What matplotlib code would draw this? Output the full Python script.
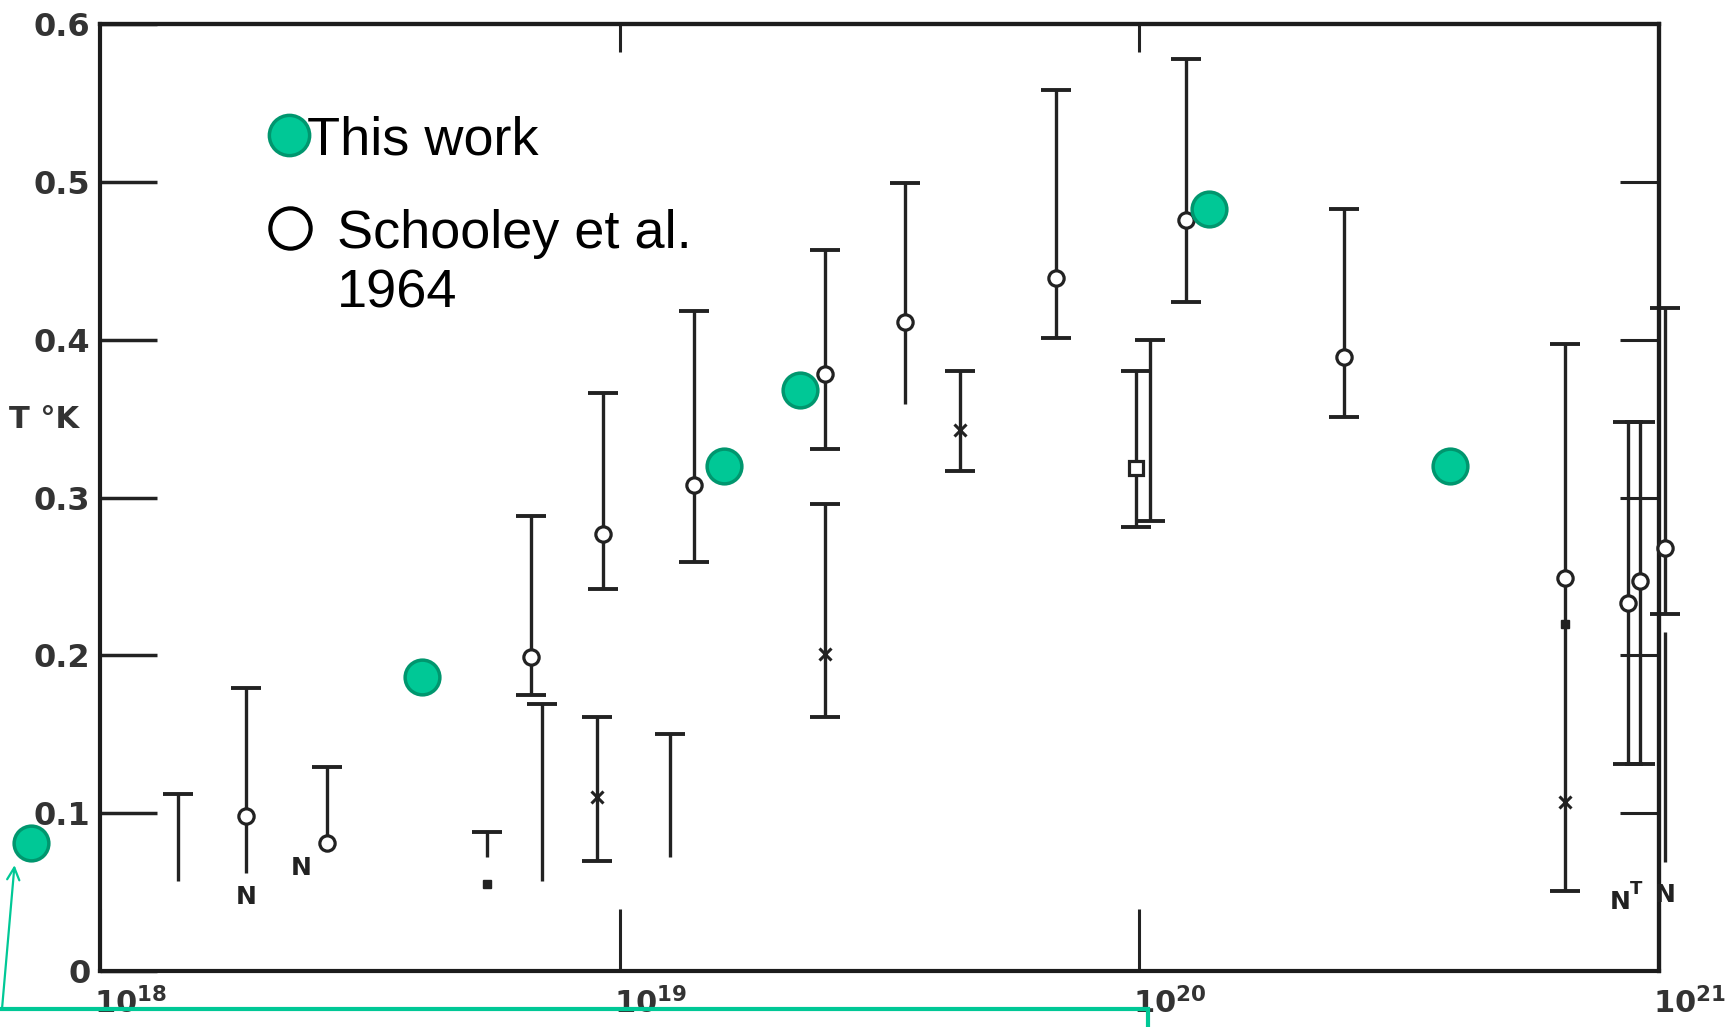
import matplotlib
matplotlib.use("Agg")
import matplotlib.pyplot as plt
from matplotlib.lines import Line2D
from matplotlib.ticker import NullLocator
from matplotlib.transforms import offset_copy
import numpy as np

nan = np.nan

# Superconducting transition temperature vs. carrier concentration
this_work_n = [7.35e17, 4.16e18, 1.59e19, 2.22e19, 1.36e20, 3.96e20]
this_work_t = [0.081, 0.186, 0.320, 0.368, 0.483, 0.320]

# Schooley et al. 1964: ranges (low/high), central value and symbol
sch_n = [1.41e18, 1.91e18, 2.73e18, 5.56e18, 6.76e18, 7.10e18, 9.29e18, 9.06e18,
         1.25e19, 1.39e19, 2.48e19, 2.48e19, 3.54e19, 4.52e19, 6.92e19, 9.86e19,
         1.05e20, 1.23e20, 2.48e20, 6.59e20, 8.71e20, 9.20e20, 1.026e21, 1.026e21]
sch_hi = [0.112, 0.179, 0.129, 0.088, 0.288, 0.169, 0.366, 0.161,
          0.150, 0.418, 0.457, 0.296, 0.499, 0.380, 0.558, 0.380,
          0.400, 0.578, 0.483, 0.397, 0.348, 0.348, 0.420, 0.215]
sch_lo = [0.057, 0.062, 0.081, 0.072, 0.175, 0.057, 0.242, 0.070,
          0.072, 0.259, 0.331, 0.161, 0.359, 0.317, 0.401, 0.281,
          0.285, 0.424, 0.351, 0.051, 0.131, 0.131, 0.226, 0.069]
sch_mid = [nan, 0.098, 0.081, nan, 0.199, nan, 0.277, 0.110,
           nan, 0.308, 0.378, 0.201, 0.411, 0.343, 0.439, 0.319,
           nan, 0.476, 0.389, 0.249, 0.233, 0.247, 0.268, nan]
sch_sym = ['', 'o', 'o', '', 'o', '', 'o', 'x',
           '', 'o', 'o', 'x', 'o', 'x', 'o', 's',
           '', 'o', 'o', 'o', 'o', 'o', 'o', '']
cap_hi = [1, 1, 1, 1, 1, 1, 1, 1, 1, 1, 1, 1, 1, 1, 1, 1, 1, 1, 1, 1, 1, 1, 1, 0]
cap_lo = [0, 0, 0, 0, 1, 0, 1, 1, 0, 1, 1, 1, 0, 1, 1, 1, 1, 1, 1, 1, 1, 1, 1, 0]

# additional point symbols
extra_x_n = [6.59e20]
extra_x_t = [0.107]
extra_sq_n = [5.56e18, 6.59e20]
extra_sq_t = [0.055, 0.220]

# sample-type letters
note_n = [1.91e18, 2.44e18, 8.43e20, 9.05e20, 1.03e21]
note_t = [0.047, 0.065, 0.044, 0.052, 0.048]
note_s = ['N', 'N', 'N', 'T', 'N']

y_ticks = [0, 0.1, 0.2, 0.3, 0.4, 0.5, 0.6]
y_ticklabels = ['0', '0.1', '0.2', '0.3', '0.4', '0.5', '0.6']
x_ticks = [1e18, 1e19, 1e20, 1e21]
x_ticklabels = [r'$\mathbf{10^{18}}$', r'$\mathbf{10^{19}}$',
                r'$\mathbf{10^{20}}$', r'$\mathbf{10^{21}}$']

plt.rcParams['mathtext.fontset'] = 'dejavusans'

W, H = 1734, 1027
fig = plt.figure(figsize=(W / 100, H / 100), dpi=100)
ax = fig.add_axes([100 / W, 56 / H, 1559 / W, 947 / H])

ink = '#222222'
label_ink = '#333333'
green = '#00C896'
green_dark = '#00966E'

ax.set_xscale('log')
ax.set_xlim(1e18, 1e21)
ax.set_ylim(0, 0.6)

# error ranges
ax.vlines(sch_n, sch_lo, sch_hi, colors=ink, lw=2.4, zorder=2, clip_on=False)
n_arr = np.array(sch_n)
ch = np.array(cap_hi, bool)
cl = np.array(cap_lo, bool)
ax.plot(n_arr[ch], np.array(sch_hi)[ch], ls='none', marker='_', ms=21,
        mew=2.8, color=ink, zorder=2, clip_on=False)
ax.plot(n_arr[cl], np.array(sch_lo)[cl], ls='none', marker='_', ms=21,
        mew=2.8, color=ink, zorder=2, clip_on=False)

# central symbols
sym = np.array(sch_sym)
mid = np.array(sch_mid)
for s, kw in [('o', dict(ms=11, mfc='white', mew=2.3)),
              ('x', dict(ms=8, mew=2.2)),
              ('s', dict(ms=10, mfc='white', mew=2.3))]:
    m = sym == s
    ax.plot(n_arr[m], mid[m], ls='none', marker=s, mec=ink, color=ink,
            zorder=3, clip_on=False, **kw)
ax.plot(extra_x_n, extra_x_t, ls='none', marker='x', ms=8, mew=2.2,
        color=ink, zorder=3)
ax.plot(extra_sq_n, extra_sq_t, ls='none', marker='s', ms=6,
        color=ink, zorder=3)

for n, t, s in zip(note_n, note_t, note_s):
    ax.text(n, t, s, ha='center', va='center', fontsize=18 if s == 'N' else 13,
            fontweight='bold', color=ink, zorder=3)

# this work
ax.plot(this_work_n, this_work_t, ls='none', marker='o', ms=25,
        mfc=green, mec=green_dark, mew=2.5, zorder=5, clip_on=False)

# axes styling
for sp in ax.spines.values():
    sp.set_linewidth(3)
    sp.set_color('#1c1c1c')
ax.xaxis.set_minor_locator(NullLocator())
ax.set_xticks(x_ticks)
ax.set_xticklabels([])
ax.tick_params(axis='x', direction='in', length=45, width=2.2, color=ink,
               bottom=True, top=False)
ax.set_yticks(y_ticks)
ax.set_yticklabels(y_ticklabels)
ax.tick_params(axis='y', direction='in', length=41, width=2.5, color=ink,
               left=True, right=False, labelsize=23, pad=7,
               labelcolor=label_ink)
for lab in ax.get_yticklabels():
    lab.set_fontweight('bold')

for xv, lab in zip(x_ticks, x_ticklabels):
    ax.annotate(lab, xy=(xv, 0), xycoords=('data', 'axes fraction'),
                xytext=(22, -23), textcoords='offset points',
                ha='center', va='center', fontsize=22, color=label_ink,
                annotation_clip=False)

top = ax.secondary_xaxis('top')
top.xaxis.set_minor_locator(NullLocator())
top.set_xticks([1e19, 1e20])
top.set_xticklabels([])
top.tick_params(direction='in', length=20, width=2.2, color=ink)
top.spines['top'].set_linewidth(3)
top.spines['top'].set_color('#1c1c1c')

right = ax.secondary_yaxis('right')
right.set_yticks([0.1, 0.2, 0.3, 0.4, 0.5])
right.set_yticklabels([])
right.tick_params(direction='in', length=28, width=2.2, color=ink)
right.spines['right'].set_linewidth(3)
right.spines['right'].set_color('#1c1c1c')

fig.text(44 / W, 1 - 420 / H, 'T °K', ha='center', va='center', fontsize=22,
         fontweight='bold', color=label_ink)

# key
fig.add_artist(Line2D([289 / W], [1 - 135 / H], marker='o', ms=29, mfc=green,
                      mec=green_dark, mew=2.5, ls='none',
                      transform=fig.transFigure))
fig.add_artist(Line2D([290 / W], [1 - 228 / H], marker='o', ms=29, mfc='white',
                      mec='black', mew=3, ls='none',
                      transform=fig.transFigure))
key_font = dict(fontsize=39, family='Liberation Sans', color='black',
                va='baseline', ha='left')
fig.text(307 / W, 1 - 155 / H, 'This work', **key_font)
fig.text(337 / W, 1 - 248 / H, 'Schooley et al.', **key_font)
fig.text(337 / W, 1 - 307 / H, '1964', **key_font)

# pointer to the lowest-concentration point (tip just below-left of the dot)
tip = offset_copy(ax.transData, fig=fig, x=-16, y=-22, units='dots')
ax.annotate('', xy=(this_work_n[0], this_work_t[0]), xycoords=tip,
            xytext=(2, 18), textcoords='figure pixels',
            arrowprops=dict(arrowstyle='->', color=green, lw=1.6,
                            shrinkA=0, shrinkB=0, mutation_scale=22),
            annotation_clip=False)
fig.add_artist(Line2D([0, 1148 / W, 1148 / W], [18 / H, 18 / H, 0],
                      color=green, lw=3, transform=fig.transFigure,
                      solid_joinstyle='miter'))

fig.savefig('out.png', dpi=100)
